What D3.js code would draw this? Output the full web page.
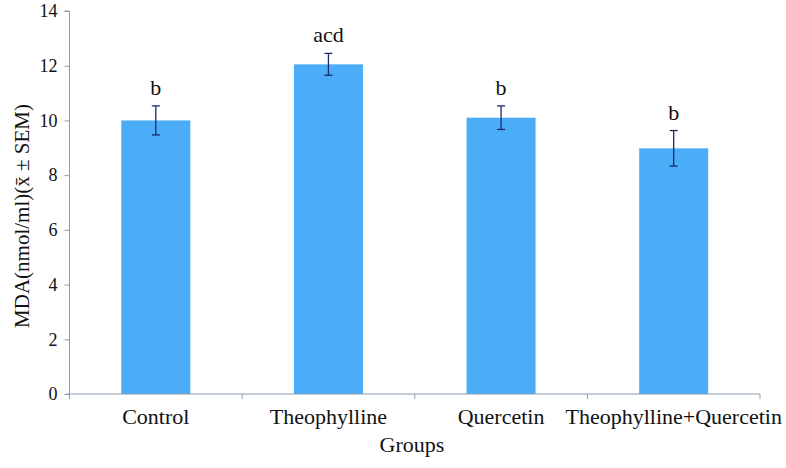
<!DOCTYPE html>
<html>
<head>
<meta charset="utf-8">
<script src="https://cdn.jsdelivr.net/npm/d3@7"></script>
<style>
  body { margin: 0; background: #fff; }
  svg text { font-family: "Liberation Serif", "DejaVu Serif", serif !important; }
</style>
</head>
<body>
<svg id="chart" width="786" height="468"></svg>
<script>
const categories = ["Control", "Theophylline", "Quercetin", "Theophylline+Quercetin"];
const means = [10.0, 12.05, 10.1, 8.98];
const sems = [0.53, 0.4, 0.43, 0.65];
const sigLabels = ["b", "acd", "b", "b"];
const yTicks = [0, 2, 4, 6, 8, 10, 12, 14];

const FONT = "'Liberation Serif', 'DejaVu Serif', serif";
const svg = d3.select("#chart");
const margin = { left: 69.5, right: 26, top: 11, bottom: 74 };
const W = 786, H = 468;
const x = d3.scaleBand().domain(categories).range([margin.left, W - margin.right]).padding(0);
const y = d3.scaleLinear().domain([0, 14]).range([H - margin.bottom, margin.top]);
const axisColor = "#8c9db0";
const textColor = "#111";

// y axis
const yAxis = svg.append("g").attr("transform", `translate(${margin.left},0)`)
  .call(d3.axisLeft(y).tickValues(yTicks).tickSize(5).tickPadding(7).tickFormat(d3.format("d")));
yAxis.attr("font-family", null);
yAxis.select(".domain").attr("stroke", axisColor).attr("d", `M-5,${y(14)}H0V${y(0)}`);
yAxis.selectAll(".tick line").attr("stroke", axisColor);
yAxis.selectAll(".tick text").style("font-size", "18px").style("font-family", FONT).attr("fill", textColor);

// bars
const bw = x.bandwidth() * 0.4;
svg.append("g").selectAll("rect").data(categories).join("rect")
  .attr("x", (d) => x(d) + x.bandwidth() / 2 - bw / 2)
  .attr("width", bw)
  .attr("y", (d, i) => y(means[i]))
  .attr("height", (d, i) => y(0) - y(means[i]))
  .attr("fill", "#4badf7");

// x axis
const xb = y(0);
const xg = svg.append("g");
xg.append("line").attr("x1", margin.left - 3).attr("x2", W - margin.right)
  .attr("y1", xb).attr("y2", xb).attr("stroke", axisColor);
const bounds = categories.map(c => x(c)).concat([x(categories[categories.length - 1]) + x.bandwidth()]);
xg.selectAll("line.tk").data(bounds).join("line").attr("class", "tk")
  .attr("x1", d => d).attr("x2", d => d).attr("y1", xb).attr("y2", xb + 5)
  .attr("stroke", axisColor);
xg.selectAll("text").data(categories).join("text")
  .attr("x", d => x(d) + x.bandwidth() / 2)
  .attr("y", 424)
  .attr("text-anchor", "middle")
  .style("font-size", "22px").style("font-family", FONT)
  .attr("fill", textColor)
  .text(d => d);

// error bars
const eb = svg.append("g").attr("stroke", "#1b2a6b").attr("stroke-width", 1.3);
categories.forEach((c, i) => {
  const cx = x(c) + x.bandwidth() / 2;
  const t = y(means[i] + sems[i]), b = y(means[i] - sems[i]);
  eb.append("line").attr("x1", cx).attr("x2", cx).attr("y1", t).attr("y2", b);
  eb.append("line").attr("x1", cx - 4).attr("x2", cx + 4).attr("y1", t).attr("y2", t);
  eb.append("line").attr("x1", cx - 4).attr("x2", cx + 4).attr("y1", b).attr("y2", b);
});

// significance labels
svg.append("g").selectAll("text").data(categories).join("text")
  .attr("x", d => x(d) + x.bandwidth() / 2)
  .attr("y", (d, i) => y(means[i] + sems[i]) - 11)
  .attr("text-anchor", "middle")
  .style("font-size", "22px").style("font-family", FONT)
  .attr("fill", textColor)
  .text((d, i) => sigLabels[i]);

// axis titles
svg.append("text").attr("x", 412).attr("y", 452)
  .attr("text-anchor", "middle")
  .style("font-size", "22px").style("font-family", FONT)
  .attr("fill", textColor).text("Groups");
svg.append("text").attr("transform", `translate(29,216) rotate(-90)`)
  .attr("text-anchor", "middle")
  .style("font-size", "21px").style("font-family", FONT)
  .attr("fill", textColor)
  .text("MDA(nmol/ml)(x\u0304 \u00B1 SEM)");
</script>
</body>
</html>
